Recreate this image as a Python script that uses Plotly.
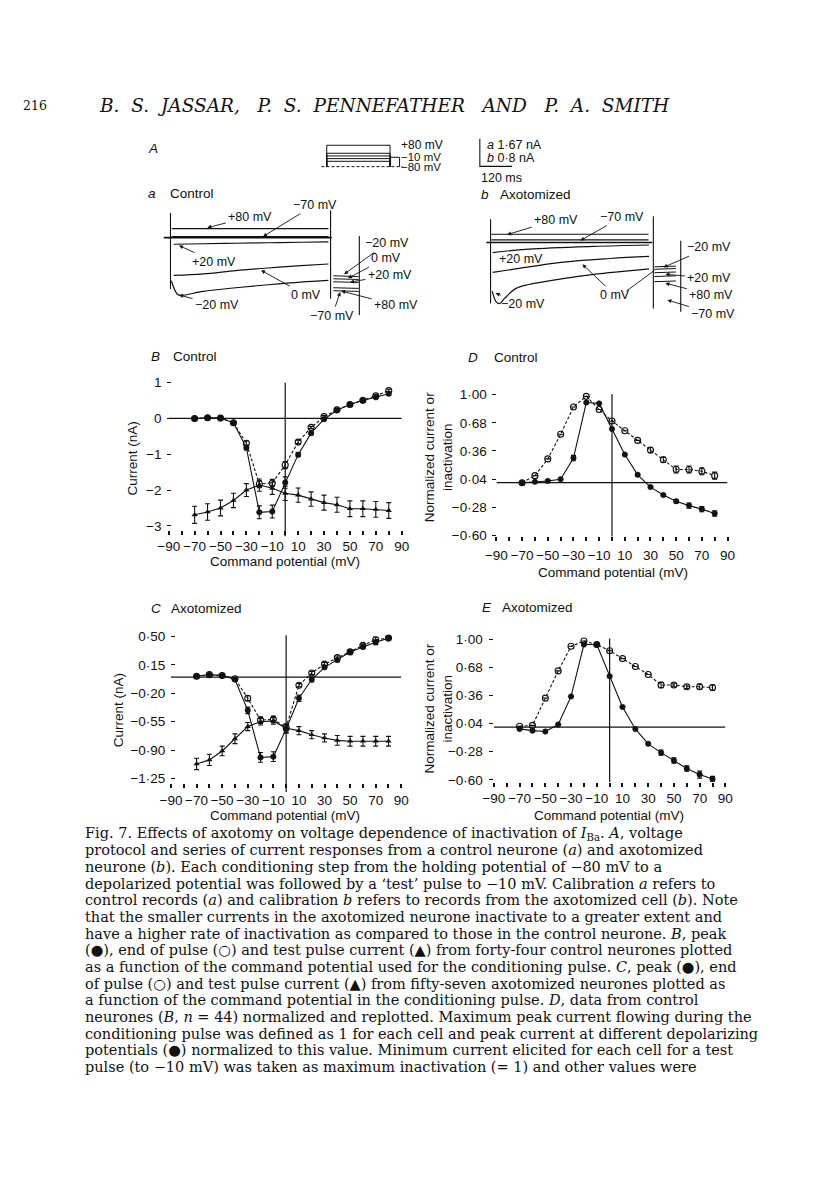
import plotly.graph_objects as go

W, H = 816, 1183
SANS = "Liberation Sans, Arial, sans-serif"
SERIF = "DejaVu Serif, serif"

# ---------------- data: panels B-E ----------------
volt = [-70, -60, -50, -40, -30, -20, -10, 0, 10, 20, 30, 40, 50, 60, 70, 80]
x_ticks = [-90, -70, -50, -30, -10, 10, 30, 50, 70, 90]

b_peak = [0.0, 0.02, 0.01, -0.12, -0.82, -2.62, -2.60, -1.79, -1.01, -0.41, -0.02, 0.23, 0.39, 0.50, 0.59, 0.69]
b_peak_err = [0, 0, 0, 0, 0.06, 0.18, 0.18, 0.16, 0.06, 0.04, 0.03, 0.03, 0.03, 0.03, 0.03, 0.04]
b_end = [0.0, 0.02, 0.01, -0.12, -0.69, -1.83, -1.80, -1.30, -0.66, -0.25, 0.05, 0.24, 0.39, 0.51, 0.63, 0.78]
b_end_err = [0, 0, 0, 0, 0.06, 0.10, 0.10, 0.10, 0.05, 0.03, 0.03, 0.03, 0.03, 0.03, 0.03, 0.04]
b_test = [-2.69, -2.61, -2.50, -2.29, -2.00, -1.86, -1.95, -2.09, -2.14, -2.25, -2.35, -2.41, -2.52, -2.52, -2.54, -2.57]
b_test_err = [0.24, 0.23, 0.22, 0.20, 0.18, 0.17, 0.17, 0.20, 0.20, 0.20, 0.21, 0.21, 0.22, 0.22, 0.22, 0.22]
b_yticks = [1, 0, -1, -2, -3]
b_ytext = ["1", "0", "\u22121", "\u22122", "\u22123"]

c_peak = [0.01, 0.03, 0.02, -0.03, -0.41, -0.99, -0.98, -0.64, -0.26, -0.03, 0.12, 0.21, 0.31, 0.37, 0.43, 0.48]
c_peak_err = [0, 0, 0, 0, 0.04, 0.06, 0.06, 0.05, 0.04, 0.03, 0.02, 0.02, 0.02, 0.02, 0.03, 0.03]
c_end = [0.01, 0.03, 0.02, -0.02, -0.26, -0.53, -0.52, -0.62, -0.10, 0.05, 0.16, 0.24, 0.31, 0.39, 0.46, 0.48]
c_end_err = [0, 0, 0, 0, 0.03, 0.04, 0.04, 0.04, 0.02, 0.02, 0.02, 0.02, 0.02, 0.02, 0.03, 0.03]
c_test = [-1.07, -1.02, -0.91, -0.76, -0.61, -0.55, -0.54, -0.63, -0.66, -0.71, -0.75, -0.78, -0.79, -0.79, -0.79, -0.79]
c_test_err = [0.07, 0.07, 0.06, 0.06, 0.05, 0.04, 0.04, 0.05, 0.05, 0.05, 0.05, 0.06, 0.06, 0.06, 0.06, 0.06]
c_yticks = [0.50, 0.15, -0.20, -0.55, -0.90, -1.25]
c_ytext = ["0\u00b750", "0\u00b715", "\u22120\u00b720", "\u22120\u00b755", "\u22120\u00b790", "\u22121\u00b725"]

d_end = [0.0, 0.08, 0.27, 0.55, 0.86, 0.98, 0.83, 0.70, 0.59, 0.48, 0.37, 0.26, 0.15, 0.15, 0.13, 0.08]
d_end_err = [0, 0, 0, 0, 0, 0, 0, 0, 0, 0, 0.03, 0.03, 0.04, 0.04, 0.04, 0.04]
d_peak = [0.0, 0.01, 0.02, 0.04, 0.28, 0.91, 0.90, 0.61, 0.32, 0.09, -0.05, -0.14, -0.21, -0.26, -0.30, -0.35]
d_peak_err = [0, 0, 0, 0, 0.03, 0, 0, 0, 0, 0, 0, 0, 0.02, 0.03, 0.03, 0.03]
dn_yticks = [1.00, 0.68, 0.36, 0.04, -0.28, -0.60]
dn_ytext = ["1\u00b700", "0\u00b768", "0\u00b736", "0\u00b704", "\u22120\u00b728", "\u22120\u00b760"]

e_end = [0.01, 0.02, 0.33, 0.64, 0.92, 0.98, 0.94, 0.87, 0.78, 0.69, 0.60, 0.48, 0.48, 0.46, 0.46, 0.45]
e_end_err = [0, 0, 0, 0, 0, 0, 0, 0, 0, 0, 0, 0.03, 0.02, 0.02, 0.03, 0.03]
e_peak = [-0.02, -0.04, -0.05, 0.03, 0.35, 0.94, 0.94, 0.58, 0.23, -0.02, -0.19, -0.29, -0.38, -0.47, -0.54, -0.59]
e_peak_err = [0, 0, 0, 0, 0, 0, 0, 0, 0, 0, 0, 0.03, 0.03, 0.03, 0.04, 0.03]

# ---------------- data: panel A ----------------
prot_levels = [80, 20, 0, -20, -40]
prot_cond_t = [0, 600]
prot_test_t = [605, 690]
prot_test_v = -10
prot_hold_v = -80
prot_hold_t = [-50, 720]

ctl_hold_t = [-25, 600]
ctl_hold_i = [0.0, 0.0]
ctl_flat_t = [5, 588]
ctl_p80_i = [0.54, 0.54]
ctl_m70_i = [0.06, 0.06]
ctl_t = [12, 121, 243, 364, 485, 588]
ctl_p20_i = [-0.40, -0.37, -0.34, -0.31, -0.28, -0.26]
ctl_0_i = [-2.28, -2.19, -1.99, -1.83, -1.69, -1.59]
ctl_m20_t = [3, 24, 36, 121, 243, 364, 485, 588]
ctl_m20_i = [-2.60, -3.38, -3.48, -3.24, -3.02, -2.84, -2.68, -2.58]
ctl_tail_t = [606, 650, 700]
ctl_tail_m20 = [-2.30, -2.33, -2.35]
ctl_tail_0 = [-2.48, -2.50, -2.52]
ctl_tail_p20 = [-2.66, -2.68, -2.70]
ctl_tail_p80 = [-3.02, -3.04, -3.06]
ctl_tail_m70 = [-3.20, -3.22, -3.24]
ctl_art_t = [0, 596, 703]
ctl_art_top = [1.49, 1.65, 0.10]
ctl_art_bot = [-3.10, -3.68, -4.67]

axo_hold_t = [-16, 602]
axo_hold_i = [0.0, 0.0]
axo_flat_t = [3, 588]
axo_p80_i = [0.24, 0.24]
axo_m70_i = [0.08, 0.08]
axo_p20_t = [8, 142, 384, 590]
axo_p20_i = [-0.29, -0.19, -0.11, -0.07]
axo_0_t = [8, 93, 263, 445, 590]
axo_0_i = [-0.86, -0.76, -0.57, -0.46, -0.40]
axo_m20_t = [6, 21, 33, 51, 93, 142, 263, 384, 590]
axo_m20_i = [-1.40, -1.71, -1.76, -1.62, -1.33, -1.21, -1.05, -0.92, -0.76]
axo_tail_t = [610, 650, 690]
axo_tail_m20 = [-0.70, -0.69, -0.68]
axo_tail_0 = [-0.77, -0.76, -0.75]
axo_tail_p20 = [-0.87, -0.86, -0.85]
axo_tail_p80 = [-0.98, -0.97, -0.96]
axo_tail_m70 = [-1.13, -1.12, -1.11]
axo_art_t = [0, 606, 708]
axo_art_top = [0.67, 0.76, 0.05]
axo_art_bot = [-1.76, -1.90, -2.00]

cal_t = [-40, -40, 80]
cal_i = [3.0, 2.2, 2.2]


def px(x):
    return x / W


def py(y):
    return 1 - y / H


def dom_x(a, b):
    return [a / W, b / W]


def dom_y(top, bot):
    return [1 - bot / H, 1 - top / H]


fig = go.Figure()
BLK = "#111111"


def add_series(xa, ya, yvals, err, kind, dashed=False):
    if kind == "peak":
        marker = dict(symbol="circle", size=5.5, color=BLK, line=dict(color=BLK, width=0.5))
    elif kind == "end":
        marker = dict(symbol="circle-open", size=6, color=BLK, line=dict(color=BLK, width=1.1))
    else:
        marker = dict(symbol="triangle-up", size=5.5, color=BLK)
    fig.add_trace(go.Scatter(
        x=volt, y=yvals, xaxis=xa, yaxis=ya, mode="lines+markers",
        line=dict(color=BLK, width=1.1, dash="3px,2px" if dashed else "solid"),
        marker=marker,
        error_y=dict(type="data", array=err, visible=True, color=BLK, thickness=1.1, width=2.5),
        showlegend=False, cliponaxis=False))


add_series("x", "y", b_test, b_test_err, "test")
add_series("x", "y", b_end, b_end_err, "end", dashed=True)
add_series("x", "y", b_peak, b_peak_err, "peak")
add_series("x2", "y2", c_test, c_test_err, "test")
add_series("x2", "y2", c_end, c_end_err, "end", dashed=True)
add_series("x2", "y2", c_peak, c_peak_err, "peak")
add_series("x3", "y3", d_end, d_end_err, "end", dashed=True)
add_series("x3", "y3", d_peak, d_peak_err, "peak")
add_series("x4", "y4", e_end, e_end_err, "end", dashed=True)
add_series("x4", "y4", e_peak, e_peak_err, "peak")


def line(xa, ya, xs, ys, width=1.2, dash="solid", shape="linear"):
    fig.add_trace(go.Scatter(x=xs, y=ys, xaxis=xa, yaxis=ya, mode="lines",
                             line=dict(color=BLK, width=width, dash=dash, shape=shape),
                             showlegend=False, hoverinfo="skip"))


for v in prot_levels:
    line("x5", "y5", [prot_cond_t[0], prot_cond_t[0], prot_cond_t[1], prot_cond_t[1]],
         [prot_hold_v, v, v, prot_hold_v], width=1.0)
line("x5", "y5", [prot_test_t[0], prot_test_t[0], prot_test_t[1], prot_test_t[1]],
     [prot_hold_v, prot_test_v, prot_test_v, prot_hold_v], width=1.0)
line("x5", "y5", prot_hold_t, [prot_hold_v, prot_hold_v], width=1.0, dash="3px,2px")

line("x6", "y6", ctl_hold_t, ctl_hold_i, width=1.6)
line("x6", "y6", ctl_flat_t, ctl_p80_i)
line("x6", "y6", ctl_flat_t, ctl_m70_i)
line("x6", "y6", ctl_t, ctl_p20_i, shape="spline")
line("x6", "y6", ctl_t, ctl_0_i, shape="spline")
line("x6", "y6", ctl_m20_t, ctl_m20_i, shape="spline")
for tail in [ctl_tail_m20, ctl_tail_0, ctl_tail_p20, ctl_tail_p80, ctl_tail_m70]:
    line("x6", "y6", ctl_tail_t, tail, width=1.0)
for t, top, bot in zip(ctl_art_t, ctl_art_top, ctl_art_bot):
    line("x6", "y6", [t, t], [top, bot], width=1.1)

line("x7", "y7", axo_hold_t, axo_hold_i, width=1.6)
line("x7", "y7", axo_flat_t, axo_p80_i)
line("x7", "y7", axo_flat_t, axo_m70_i)
line("x7", "y7", axo_p20_t, axo_p20_i, shape="spline")
line("x7", "y7", axo_0_t, axo_0_i, shape="spline")
line("x7", "y7", axo_m20_t, axo_m20_i, shape="spline")
for tail in [axo_tail_m20, axo_tail_0, axo_tail_p20, axo_tail_p80, axo_tail_m70]:
    line("x7", "y7", axo_tail_t, tail, width=1.0)
for t, top, bot in zip(axo_art_t, axo_art_top, axo_art_bot):
    line("x7", "y7", [t, t], [top, bot], width=1.1)
line("x7", "y7", cal_t, cal_i, width=1.1)

tickfont = dict(family=SANS, size=13.5, color=BLK)


def xaxis_def(dom, anchor, standoff=0):
    return dict(domain=dom, range=[-90, 90], anchor=anchor, showgrid=False, zeroline=False,
                showline=False, tickmode="array", tickvals=x_ticks, tickangle=0,
                ticktext=[("\u2212" + str(-v)) if v < 0 else str(v) for v in x_ticks],
                ticks="outside", ticklen=4, tickwidth=1.6, tickcolor=BLK,
                minor=dict(dtick=10, tick0=-90, ticks="outside", ticklen=4, tickwidth=1.6, tickcolor=BLK),
                ticklabelstandoff=standoff, tickfont=tickfont, fixedrange=True)


def yaxis_def(dom, rng, pos, vals, text):
    return dict(domain=dom, range=rng, anchor="free", position=pos,
                showgrid=False, zeroline=False,
                showline=False, tickmode="array", tickvals=vals, ticktext=text,
                ticks="outside", ticklen=4, tickwidth=1.4, tickcolor=BLK,
                ticklabelstandoff=3, tickfont=tickfont, fixedrange=True)


hidden = dict(visible=False, showgrid=False, zeroline=False, fixedrange=True)

fig.update_layout(
    width=W, height=H, margin=dict(l=0, r=0, t=0, b=0),
    paper_bgcolor="white", plot_bgcolor="rgba(0,0,0,0)", showlegend=False,
    xaxis=xaxis_def(dom_x(161.5, 400), "y", 0),
    yaxis=yaxis_def(dom_y(379.7, 530.6), [-3.12, 1.05], px(164), b_yticks, b_ytext),
    xaxis2=xaxis_def(dom_x(163.8, 399.6), "y2", 0),
    yaxis2=yaxis_def(dom_y(635.5, 786.4), [-1.31, 0.53], px(168), c_yticks, c_ytext),
    xaxis3=xaxis_def(dom_x(497, 733.6), "y3", 2),
    yaxis3=yaxis_def(dom_y(391.8, 536.9), [-0.61, 1.02], px(497), dn_yticks, dn_ytext),
    xaxis4=xaxis_def(dom_x(494.4, 731.4), "y4", 0),
    yaxis4=yaxis_def(dom_y(639, 784.6), [-0.62, 1.02], px(493), dn_yticks, dn_ytext),
    xaxis5=dict(hidden, domain=dom_x(310, 430), range=[-123, 988], anchor="y5"),
    yaxis5=dict(hidden, domain=dom_y(135, 170), range=[-129.6, 129.6], anchor="x5"),
    xaxis6=dict(hidden, domain=dom_x(145, 425), range=[-66.5, 951.6], anchor="y6"),
    yaxis6=dict(hidden, domain=dom_y(195, 320), range=[-5.069, 2.385], anchor="x6"),
    xaxis7=dict(hidden, domain=dom_x(470, 760), range=[-76.4, 978.2], anchor="y7"),
    yaxis7=dict(hidden, domain=dom_y(130, 320), range=[-2.286, 3.143], anchor="x7"),
)

shapes = []
for xr, yr, vtop, vbot in [("x", "y", 381.7, 536.7), ("x2", "y2", 636.7, 795),
                           ("x3", "y3", 393, 537), ("x4", "y4", 640, 785)]:
    shapes.append(dict(type="line", xref=xr, yref=yr, x0=-90, x1=90, y0=0, y1=0,
                       line=dict(color=BLK, width=1.2)))
    shapes.append(dict(type="line", xref=xr, yref="paper", x0=0, x1=0, y0=py(vbot), y1=py(vtop),
                       line=dict(color=BLK, width=1.2)))
shapes.append(dict(type="line", xref="paper", yref="paper", x0=px(630), y0=py(289), x1=px(659), y1=py(268),
                   line=dict(color=BLK, width=0.9)))
fig.update_layout(shapes=shapes)

ann = []


def text(x, y, s, size=13, family=SANS, anchor="left", italic=False, angle=0, color=BLK):
    if italic:
        s = "<i>" + s + "</i>"
    ann.append(dict(x=px(x), y=py(y), xref="paper", yref="paper", text=s, showarrow=False,
                    xanchor=anchor, yanchor="middle", textangle=angle,
                    font=dict(family=family, size=size, color=color)))


def arrow(tx, ty, hx, hy, s, size=12.5):
    ann.append(dict(x=px(hx), y=py(hy), xref="paper", yref="paper", text=s,
                    ax=tx - hx, ay=ty - hy, axref="pixel", ayref="pixel",
                    showarrow=True, arrowhead=2, arrowsize=0.9, arrowwidth=0.9, arrowcolor=BLK,
                    standoff=0, startstandoff=1,
                    font=dict(family=SANS, size=size, color=BLK)))


NB = "\u00a0"
s1 = " " + NB
s2 = " " + NB * 2
header = ("B." + s1 + "S." + s1 + "JASSAR," + s2 + "P." + s1 + "S." + s1 + "PENNEFATHER" + s2 +
          "AND" + s2 + "P." + s1 + "A." + s1 + "SMITH")
text(10, 102, "216", size=12.5, family=SERIF)
text(88, 102, header, size=18.5, family=SERIF, italic=True)

text(138, 145, "A", italic=True, size=13.5)
text(138, 190, "a", italic=True, size=13.5)
text(161, 190, "Control", size=13.5)
text(479, 191, "b", italic=True, size=13.5)
text(499, 191, "Axotomized", size=13.5)
text(141, 355, "B", italic=True, size=13.5)
text(164, 355, "Control", size=13.5)
text(141, 610, "C", italic=True, size=13.5)
text(162, 610, "Axotomized", size=13.5)
text(466, 356, "D", italic=True, size=13.5)
text(492, 356, "Control", size=13.5)
text(480, 609, "E", italic=True, size=13.5)
text(501, 609, "Axotomized", size=13.5)

text(397, 141, "+80 mV", size=12)
text(397, 154, "\u221210 mV", size=11.5)
text(397, 164, "\u221280 mV", size=11.5)
text(485, 141, "<i>a</i> 1\u00b767 nA", size=12.5)
text(485, 155, "<i>b</i> 0\u00b78 nA", size=12.5)
text(479, 175, "120 ms", size=12.5)

arrow(244, 214, 201, 225, "+80 mV")
arrow(310, 202, 258, 234, "\u221270 mV")
arrow(207, 259, 172, 243, "+20 mV")
arrow(301, 293, 256, 268, "0 mV")
arrow(210, 303, 172, 293, "\u221220 mV")
arrow(384, 241, 341, 272, "\u221220 mV")
arrow(383, 256, 345, 276, "0 mV")
arrow(387, 273, 347, 280, "+20 mV")
arrow(393, 303, 338, 289, "+80 mV")
arrow(329, 314, 337, 290, "\u221270 mV")
arrow(557, 217, 508, 232, "+80 mV")
arrow(625, 214, 583, 238, "\u221270 mV")
arrow(522, 257, 497, 249, "+20 mV")
arrow(618, 293, 585, 262, "0 mV")
arrow(524, 302, 496, 291, "\u221220 mV")
arrow(714, 245, 668, 265, "\u221220 mV")
arrow(714, 276, 670, 272, "+20 mV")
arrow(716, 293, 670, 281, "+80 mV")
arrow(718, 312, 672, 298, "\u221270 mV")

text(281, 562, "Command potential (mV)", anchor="center", size=13.5)
text(281, 819, "Command potential (mV)", anchor="center", size=13.5)
text(616, 573, "Command potential (mV)", anchor="center", size=13.5)
text(612, 819, "Command potential (mV)", anchor="center", size=13.5)
text(124, 458, "Current (nA)", anchor="center", angle=-90, size=13.5)
text(110, 712, "Current (nA)", anchor="center", angle=-90, size=13.5)
text(438, 457, "Normalized current or<br>inactivation", anchor="center", angle=-90, size=13.5)
text(438, 711, "Normalized current or<br>inactivation", anchor="center", angle=-90, size=13.5)

cap = [
    "Fig. 7. Effects of axotomy on voltage dependence of inactivation of <i>I</i><sub>Ba</sub>. <i>A</i>, voltage",
    "protocol and series of current responses from a control neurone (<i>a</i>) and axotomized",
    "neurone (<i>b</i>). Each conditioning step from the holding potential of \u221280 mV to a",
    "depolarized potential was followed by a \u2018test\u2019 pulse to \u221210 mV. Calibration <i>a</i> refers to",
    "control records (<i>a</i>) and calibration <i>b</i> refers to records from the axotomized cell (<i>b</i>). Note",
    "that the smaller currents in the axotomized neurone inactivate to a greater extent and",
    "have a higher rate of inactivation as compared to those in the control neurone. <i>B</i>, peak",
    "(\u25cf), end of pulse (\u25cb) and test pulse current (\u25b2) from forty-four control neurones plotted",
    "as a function of the command potential used for the conditioning pulse. <i>C</i>, peak (\u25cf), end",
    "of pulse (\u25cb) and test pulse current (\u25b2) from fifty-seven axotomized neurones plotted as",
    "a function of the command potential in the conditioning pulse. <i>D</i>, data from control",
    "neurones (<i>B</i>, <i>n</i> = 44) normalized and replotted. Maximum peak current flowing during the",
    "conditioning pulse was defined as 1 for each cell and peak current at different depolarizing",
    "potentials (\u25cf) normalized to this value. Minimum current elicited for each cell for a test",
    "pulse (to \u221210 mV) was taken as maximum inactivation (= 1) and other values were",
]
for i, s in enumerate(cap):
    text(74, 837 + i * 16.86, s, size=14.5, family=SERIF)

fig.update_layout(annotations=ann)

fig.write_html("out.html", config={"displayModeBar": False},
               post_script="document.body.style.margin='0px';document.body.style.overflow='hidden';")
